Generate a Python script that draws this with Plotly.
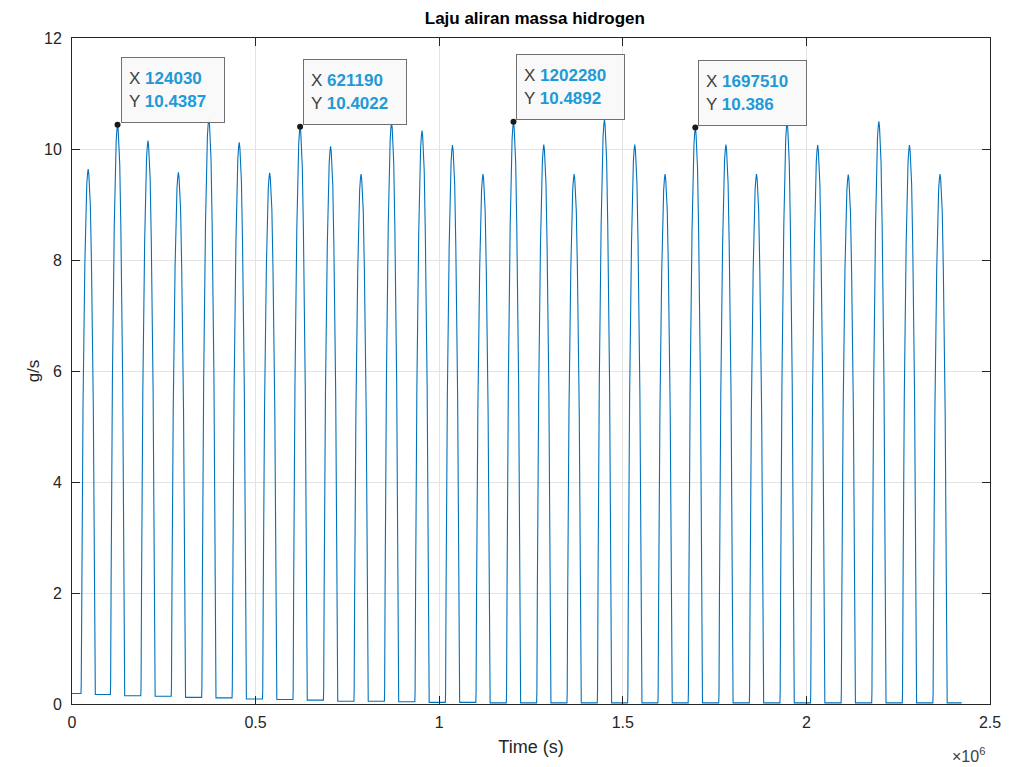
import plotly.graph_objects as go

# ---------------- data ----------------
peak_times = [44000, 124030, 206900, 289700, 372600, 455400, 538300, 621190,
              704200, 787200, 870200, 953200, 1036200, 1119200, 1202280,
              1284800, 1367400, 1450000, 1532600, 1615100, 1697510, 1780800,
              1864100, 1947400, 2030700, 2114000, 2197300, 2280600, 2363900]
peak_values = [9.64, 10.4387, 10.15, 9.58, 10.55, 10.12, 9.57, 10.4022,
               10.05, 9.55, 10.48, 10.33, 10.07, 9.55, 10.4892,
               10.08, 9.55, 10.53, 10.08, 9.55, 10.386, 10.08,
               9.55, 10.48, 10.07, 9.54, 10.50, 10.07, 9.55]
# trough level before each pulse (last entry = level after the last pulse)
trough_values = [0.19, 0.17, 0.15, 0.14, 0.12, 0.11, 0.09, 0.08, 0.07, 0.05,
                 0.05, 0.04, 0.03, 0.03, 0.02, 0.02, 0.02, 0.02, 0.02, 0.02,
                 0.02, 0.02, 0.02, 0.02, 0.02, 0.02, 0.02, 0.02, 0.02, 0.02]
series_start = 0
series_end = 2423000

# pulse profile read from one pulse: offset from peak (s) and fraction of height
profile_offsets = [-19500, -18800, -17500, -14000, -9000, -6000, -3800, -1800, 0,
                   1800, 3800, 6000, 9000, 14000, 17500, 18800, 19500]
profile_fracs = [0.0, 0.02, 0.2, 0.55, 0.82, 0.93, 0.97, 0.99, 1.0,
                 0.99, 0.97, 0.93, 0.82, 0.55, 0.2, 0.02, 0.0]

# data tips shown on the chart
tip_x = [124030, 621190, 1202280, 1697510]
tip_y = [10.4387, 10.4022, 10.4892, 10.386]

x_tickvals = [0, 500000, 1000000, 1500000, 2000000, 2500000]
x_ticktext = ["0", "0.5", "1", "1.5", "2", "2.5"]
y_tickvals = [0, 2, 4, 6, 8, 10, 12]

# ---------------- build the trace ----------------
xs = [series_start]
ys = [trough_values[0]]
for i, (tp, pv) in enumerate(zip(peak_times, peak_values)):
    for off, fr in zip(profile_offsets, profile_fracs):
        base = trough_values[i] if off <= 0 else trough_values[i + 1]
        xs.append(tp + off)
        ys.append(base + fr * (pv - base))
xs.append(series_end)
ys.append(trough_values[-1])

FONT = "Liberation Sans, Arial, Helvetica, sans-serif"
AX = "#262626"
GRID = "#e3e3e3"
W, H = 1019, 759   # page has an 8px body margin

fig = go.Figure()
fig.add_trace(go.Scatter(x=xs, y=ys, mode="lines",
                         line=dict(color="#0072BD", width=1.1),
                         hoverinfo="skip", showlegend=False))
fig.add_trace(go.Scatter(x=tip_x, y=tip_y, mode="markers",
                         marker=dict(color="#1a1a1a", size=6),
                         hoverinfo="skip", showlegend=False))

for tx, ty in zip(tip_x, tip_y):
    xs_txt = f"{tx}"
    ys_txt = f"{ty:g}"
    text = (f"<span style='color:#404040'>X</span> <b><span style='color:#1f9ad6'>{xs_txt}</span></b><br>"
            f"<span style='color:#404040'>Y</span> <b><span style='color:#1f9ad6'>{ys_txt}</span></b>")
    fig.add_annotation(x=tx, y=ty, xref="x", yref="y", text=text, showarrow=False,
                       xanchor="left", yanchor="bottom", xshift=3, yshift=2,
                       align="left", valign="middle",
                       width=58 + 5 * len(xs_txt), height=50,
                       bgcolor="rgba(249,249,249,0.95)", bordercolor="#707070",
                       borderwidth=1, borderpad=7,
                       font=dict(family=FONT, size=17))

# x10^6 exponent label
fig.add_annotation(x=1, y=0, xref="paper", yref="paper", text="×10<sup>6</sup>",
                   showarrow=False, xanchor="right", yanchor="middle",
                   xshift=-3, yshift=-51, font=dict(family=FONT, size=16, color="#404040"))

fig.update_layout(
    width=W, height=H, autosize=False,
    margin=dict(l=64, r=37, t=30, b=63),
    paper_bgcolor="white", plot_bgcolor="white",
    font=dict(family=FONT, size=16, color=AX),
    title=dict(text="<b>Laju aliran massa hidrogen</b>", x=0.517, xanchor="center",
               y=1 - 10 / H, yanchor="middle", yref="container",
               font=dict(family=FONT, size=17, color="#000000")),
)
fig.update_xaxes(range=[0, 2500000], tickvals=x_tickvals, ticktext=x_ticktext,
                 showgrid=True, gridcolor=GRID, gridwidth=1,
                 showline=True, linecolor=AX, linewidth=1, mirror="ticks",
                 ticks="inside", ticklen=8, tickcolor=AX, zeroline=False,
                 tickfont=dict(family=FONT, size=16, color=AX),
                 ticklabelstandoff=4,
                 title=dict(text="Time (s)", standoff=10,
                            font=dict(family=FONT, size=18, color=AX)))
fig.update_yaxes(range=[0, 12], tickvals=y_tickvals,
                 showgrid=True, gridcolor=GRID, gridwidth=1,
                 showline=True, linecolor=AX, linewidth=1, mirror="ticks",
                 ticks="inside", ticklen=8, tickcolor=AX, zeroline=False,
                 tickfont=dict(family=FONT, size=16, color=AX),
                 ticklabelstandoff=6,
                 title=dict(text="g/s", standoff=0,
                            font=dict(family=FONT, size=17, color=AX)))

fig.write_html("out.html")
